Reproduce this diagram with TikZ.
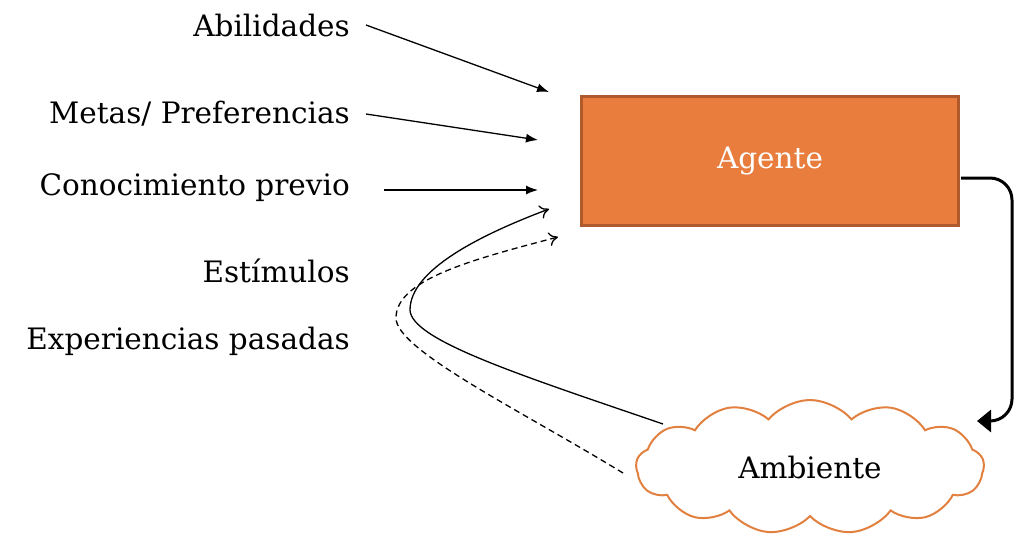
\documentclass[tikz,border=0pt]{standalone}
\usepackage{fontspec}
\setmainfont{DejaVu Serif}
\usetikzlibrary{shapes.symbols,arrows.meta}
\definecolor{agfill}{HTML}{E87D3D}
\definecolor{agline}{HTML}{AE5A2C}
\definecolor{cloudline}{HTML}{E2803F}
\tikzset{
  bigtext/.style={font=\fontsize{29.5}{34}\selectfont},
  lbl/.style={anchor=east,inner sep=0pt,bigtext},
  inarrow/.style={line width=1.3pt,-{Latex[length=12pt,width=9pt]}},
  fbarrow/.style={line width=1.3pt,-{To[length=9pt,width=14pt]}},
}
\begin{document}
\begin{tikzpicture}[x=1pt,y=-1pt]
\useasboundingbox (0,0) rectangle (1032,544);
\node[draw=agline,line width=2.5pt,fill=agfill,minimum width=377pt,minimum height=129pt,text=white,bigtext] (agente) at (770,161) {Agente};
\node[cloud,cloud puffs=13,cloud puff arc=100,aspect=2.7,draw=cloudline,line width=2pt,fill=white,minimum width=348pt,minimum height=134pt,bigtext] (amb) at (810,467) {Ambiente};
\node[lbl] (abil) at (350,25) {Abilidades};
\node[lbl] (metas) at (350,114) {Metas/ Preferencias};
\node[lbl] (conoc) at (350,188) {Conocimiento previo};
\node[lbl] (estim) at (350,271) {Estímulos};
\node[lbl] (exper) at (350,341) {Experiencias pasadas};
\coordinate (a1) at (549,92);
\coordinate (a2) at (538,140);
\coordinate (a3) at (538,190);
\coordinate (s1) at (366,25);
\coordinate (s2) at (366,114);
\coordinate (s3) at (384,190);
\draw[inarrow] (s1) -- (a1);
\draw[inarrow] (s2) -- (a2);
\draw[inarrow] (s3) -- (a3);
\coordinate (solstart) at (663,424);
\coordinate (solend) at (549,209);
\coordinate (dstart) at (623,473);
\coordinate (dend) at (558,237);
\draw[fbarrow] (solstart) .. controls (520,375) and (411,340) .. (410,310) .. controls (410,270) and (480,235) .. (solend);
\draw[fbarrow,dashed,dash pattern=on 6pt off 4pt] (dstart) .. controls (520,410) and (396,350) .. (396,318) .. controls (396,280) and (470,260) .. (dend);
\coordinate (aout) at (961,178);
\coordinate (ain) at (977,421);
\draw[line width=3pt,rounded corners=22pt,-{Triangle[length=14pt,width=22pt]}] (aout) -- (1012,178) -- (1012,421) -- (ain);
\end{tikzpicture}
\end{document}
